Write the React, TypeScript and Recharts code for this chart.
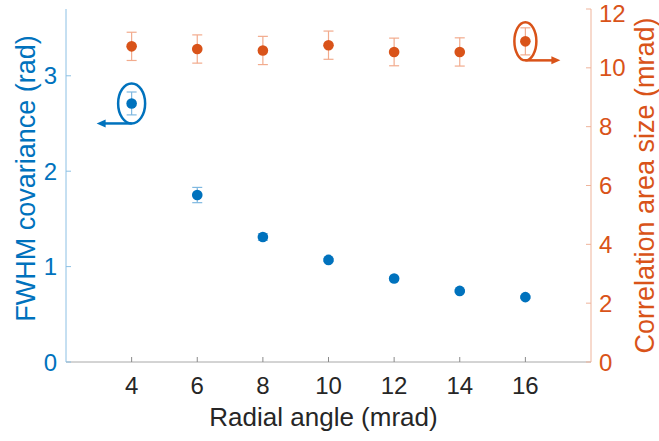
import { ComposedChart, Scatter, ErrorBar, XAxis, YAxis, ReferenceDot, Label, Text } from 'recharts';

// values
const radialAngle = [4, 6, 8, 10, 12, 14, 16];
const fwhmCovariance = [2.71, 1.75, 1.31, 1.07, 0.875, 0.745, 0.68];
const fwhmError = [0.12, 0.08, 0.035, 0.015, 0.012, 0.012, 0.012];
const corrAreaSize = [10.73, 10.64, 10.59, 10.77, 10.54, 10.54, 10.9];
const corrAreaError = [0.48, 0.48, 0.48, 0.48, 0.47, 0.48, 0.46];

const xTicks = [4, 6, 8, 10, 12, 14, 16];
const leftTicks = [0, 1, 2, 3];
const rightTicks = [0, 2, 4, 6, 8, 10, 12];

const BLUE = '#0072BD';
const ORANGE = '#D95319';
const FONT = '"Liberation Sans", Arial, Helvetica, sans-serif';

const fwhmData = radialAngle.map((x, i) => ({ x, y: fwhmCovariance[i], err: fwhmError[i] }));
const corrData = radialAngle.map((x, i) => ({ x, y: corrAreaSize[i], err: corrAreaError[i] }));

const dot = (color: string) => (props: any) => (
  <circle cx={props.cx} cy={props.cy} r={5.3} fill={color} />
);

// ellipse around a point with an arrow pointing towards its axis
const Callout = ({ cx, cy, color, rx, ry, dir }: any) => {
  const by = cy + ry;
  const ex = cx + dir * 35;
  return (
    <g>
      <ellipse cx={cx} cy={cy} rx={rx} ry={ry} fill="none" stroke={color} strokeWidth={2.5} />
      <line x1={cx} y1={by} x2={ex - dir * 6} y2={by} stroke={color} strokeWidth={2.5} />
      <polygon points={`${ex},${by} ${ex - dir * 9},${by - 4} ${ex - dir * 9},${by + 4}`} fill={color} />
    </g>
  );
};

const axisTitle = (value: string, color: string, dx: number, dy: number, angle: number, size: number) =>
  (props: any) => {
    const vb = props.viewBox;
    return (
      <Text
        x={vb.x + vb.width / 2 + dx}
        y={vb.y + vb.height / 2 + dy}
        textAnchor="middle"
        verticalAnchor="middle"
        angle={angle}
        fill={color}
        fontSize={size}
        fontFamily={FONT}
      >
        {value}
      </Text>
    );
  };

export default function App() {
  return (
    <div style={{ position: 'absolute', left: 0, top: 0, background: '#fff' }}>
      <ComposedChart width={659} height={441} margin={{ top: 9, right: 0, bottom: 0, left: 0 }} style={{ fontFamily: FONT }}>
        <XAxis
          xAxisId="top"
          orientation="top"
          type="number"
          domain={[2, 18]}
          ticks={xTicks}
          height={0}
          tick={false}
          tickSize={-5}
          axisLine={{ stroke: '#a8a8a8' }}
          tickLine={{ stroke: '#8a8a8a' }}
        />
        <XAxis
          dataKey="x"
          type="number"
          domain={[2, 18]}
          ticks={xTicks}
          height={79}
          tickSize={-5}
          tickMargin={20}
          axisLine={{ stroke: '#a8a8a8' }}
          tickLine={{ stroke: '#8a8a8a' }}
          tick={{ fill: '#262626', fontSize: 24 }}
        >
          <Label content={axisTitle('Radial angle (mrad)', '#262626', -5, 15, 0, 26)} />
        </XAxis>
        <YAxis
          yAxisId="left"
          type="number"
          domain={[0, 3.7]}
          ticks={leftTicks}
          width={66}
          tickSize={-5}
          tickMargin={14}
          axisLine={{ stroke: '#8cc0e4' }}
          tickLine={{ stroke: '#8cc0e4' }}
          tick={{ fill: BLUE, fontSize: 24 }}
        >
          <Label content={axisTitle('FWHM covariance (rad)', BLUE, -8, -7, -90, 27)} />
        </YAxis>
        <YAxis
          yAxisId="right"
          orientation="right"
          type="number"
          domain={[0, 12]}
          ticks={rightTicks}
          width={68}
          tickSize={-5}
          tickMargin={13}
          axisLine={{ stroke: '#efb49b' }}
          tickLine={{ stroke: '#efb49b' }}
          tick={{ fill: ORANGE, fontSize: 24 }}
        >
          <Label content={axisTitle('Correlation area size (mrad)', ORANGE, 19, 0, -90, 27)} />
        </YAxis>

        <Scatter yAxisId="right" data={corrData} dataKey="y" shape={dot(ORANGE)} isAnimationActive={false}>
          <ErrorBar dataKey="err" direction="y" width={5} stroke="#f2ab8d" strokeWidth={1.2} />
        </Scatter>
        <Scatter yAxisId="left" data={fwhmData} dataKey="y" shape={dot(BLUE)} isAnimationActive={false}>
          <ErrorBar dataKey="err" direction="y" width={5} stroke="#7fb8e0" strokeWidth={1.2} />
        </Scatter>

        <ReferenceDot
          yAxisId="left"
          x={radialAngle[0]}
          y={fwhmCovariance[0]}
          shape={(p: any) => <Callout cx={p.cx} cy={p.cy} color={BLUE} rx={13.5} ry={20} dir={-1} />}
        />
        <ReferenceDot
          yAxisId="right"
          x={radialAngle[6]}
          y={corrAreaSize[6]}
          shape={(p: any) => <Callout cx={p.cx} cy={p.cy} color={ORANGE} rx={11} ry={19} dir={1} />}
        />
      </ComposedChart>
    </div>
  );
}
